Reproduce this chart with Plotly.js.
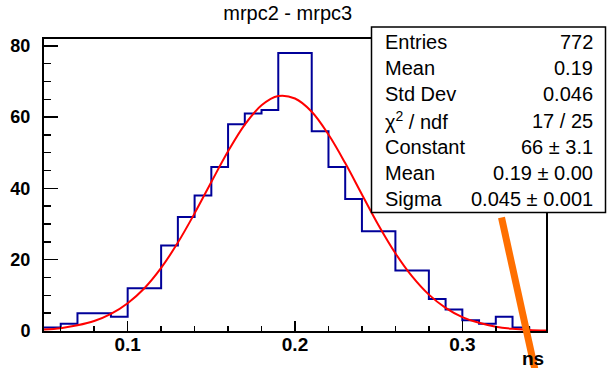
<!DOCTYPE html>
<html>
<head>
<meta charset="utf-8">
<script src="https://cdn.plot.ly/plotly-3.0.1.min.js"></script>
<style>
html,body{margin:0;padding:0;background:#fff;}
#chart{width:607px;height:368px;}
</style>
</head>
<body>
<div id="chart"></div>
<script>
// Histogram bins (low edges) and counts
var binLow = [0.05,0.06,0.07,0.08,0.09,0.10,0.11,0.12,0.13,0.14,0.15,0.16,0.17,0.18,0.19,
              0.20,0.21,0.22,0.23,0.24,0.25,0.26,0.27,0.28,0.29,0.30,0.31,0.32,0.33,0.34];
var binHigh = 0.35;
var counts = [1,2,5,5,4,12,12,24,32,38,46,58,61,62,78,
              78,56,46,37,28,28,17,17,9,6,3,2,4,1,0];

// Fit curve
var fitX = [0.05,0.06,0.07,0.08,0.09,0.10,0.11,0.12,0.13,0.14,0.15,0.16,0.17,0.18,0.19,0.20,
            0.21,0.22,0.23,0.24,0.25,0.26,0.27,0.28,0.29,0.30,0.31,0.32,0.33,0.34,0.35];
var fitY = [0.4,0.8,1.6,2.8,4.8,7.8,12.0,17.7,24.8,33.0,41.8,50.4,57.9,63.3,65.9,65.2,
            61.5,55.1,47.1,38.3,29.6,21.8,15.3,10.2,6.5,3.9,2.3,1.2,0.6,0.3,0.15];

// Stats box
var statLabels = ['Entries','Mean','Std Dev','\u03c7<sup>2</sup> / ndf','Constant','Mean','Sigma'];
var statValues = ['772','0.19','0.046','17 / 25','66 \u00b1 3.1','0.19 \u00b1 0.00','0.045 \u00b1 0.001'];

var titleText = 'mrpc2 - mrpc3';
var xTitleText = 'ns';

var histX = binLow.concat([binHigh]);
var histY = counts.concat([counts[counts.length-1]]);

var FONT = 'Liberation Sans, Arial, Helvetica, sans-serif';

var traces = [
  {x: histX, y: histY, type: 'scatter', mode: 'lines',
   line: {shape: 'hv', color: '#000099', width: 2}, hoverinfo: 'skip'},
  {x: fitX, y: fitY, type: 'scatter', mode: 'lines',
   line: {shape: 'spline', color: '#ff0000', width: 2}, hoverinfo: 'skip'}
];

var L = 44, R = 61, T = 39, B = 37, W = 607, H = 368;
var pw = W - L - R, ph = H - T - B;
function px2x(p){ return (p - L) / pw; }
function py2y(p){ return (H - B - p) / ph; }

var shapes = [
  {type: 'rect', xref: 'paper', yref: 'paper', layer: 'above',
   x0: px2x(371.5), x1: px2x(605.5), y0: py2y(212.5), y1: py2y(27),
   fillcolor: '#ffffff', line: {color: '#000000', width: 1.5}},
  // orange stroke overlay
  {type: 'line', xref: 'paper', yref: 'paper', layer: 'above',
   x0: px2x(501.5), y0: py2y(217.5), x1: px2x(535.5), y1: py2y(372),
   line: {color: '#ff6f00', width: 7}}
];

var annotations = [];
var rowY = [41.7, 68, 94.3, 120.6, 146.9, 173.2, 199.5];
for (var i = 0; i < statLabels.length; i++) {
  annotations.push({xref: 'paper', yref: 'paper', x: px2x(382.5), y: py2y(rowY[i]),
    xanchor: 'left', yanchor: 'middle', text: statLabels[i], showarrow: false,
    font: {family: FONT, size: 20, color: '#000'}});
  annotations.push({xref: 'paper', yref: 'paper', x: px2x(594.5), y: py2y(rowY[i]),
    xanchor: 'right', yanchor: 'middle', text: statValues[i], showarrow: false,
    font: {family: FONT, size: 20, color: '#000'}});
}
annotations.push({xref: 'paper', yref: 'paper', x: px2x(546), y: py2y(358),
  xanchor: 'right', yanchor: 'middle', text: xTitleText, showarrow: false,
  font: {family: FONT, size: 19, color: '#000', weight: 'bold'}});

var layout = {
  width: W, height: H,
  margin: {l: L, r: R, t: T, b: B, pad: 0},
  paper_bgcolor: '#ffffff', plot_bgcolor: '#ffffff',
  showlegend: false,
  title: {text: titleText, font: {family: FONT, size: 20, color: '#000'},
          x: 0.474, xanchor: 'center', y: 1 - 13/368, yanchor: 'middle', yref: 'container'},
  xaxis: {range: [0.05, 0.35], dtick: 0.1, tick0: 0, showgrid: false, zeroline: false,
          showline: true, linecolor: '#000', linewidth: 2, mirror: true,
          ticks: 'inside', ticklen: 10, tickwidth: 1.5, tickcolor: '#000',
          minor: {dtick: 0.02, tick0: 0, ticks: 'inside', ticklen: 5, tickwidth: 1.5, tickcolor: '#000', showgrid: false},
          tickfont: {family: FONT, size: 19, color: '#000', weight: 'bold'},
          ticklabelstandoff: -5},
  yaxis: {range: [0, 81.9], dtick: 20, tick0: 0, showgrid: false, zeroline: false,
          showline: true, linecolor: '#000', linewidth: 2, mirror: true,
          ticks: 'inside', ticklen: 14, tickwidth: 1.5, tickcolor: '#000',
          minor: {dtick: 5, tick0: 0, ticks: 'inside', ticklen: 7, tickwidth: 1.5, tickcolor: '#000', showgrid: false},
          tickfont: {family: FONT, size: 18, color: '#000', weight: 'bold'},
          ticklabelstandoff: 8},
  shapes: shapes,
  annotations: annotations
};

Plotly.newPlot('chart', traces, layout, {staticPlot: true, displayModeBar: false});
</script>
</body>
</html>
